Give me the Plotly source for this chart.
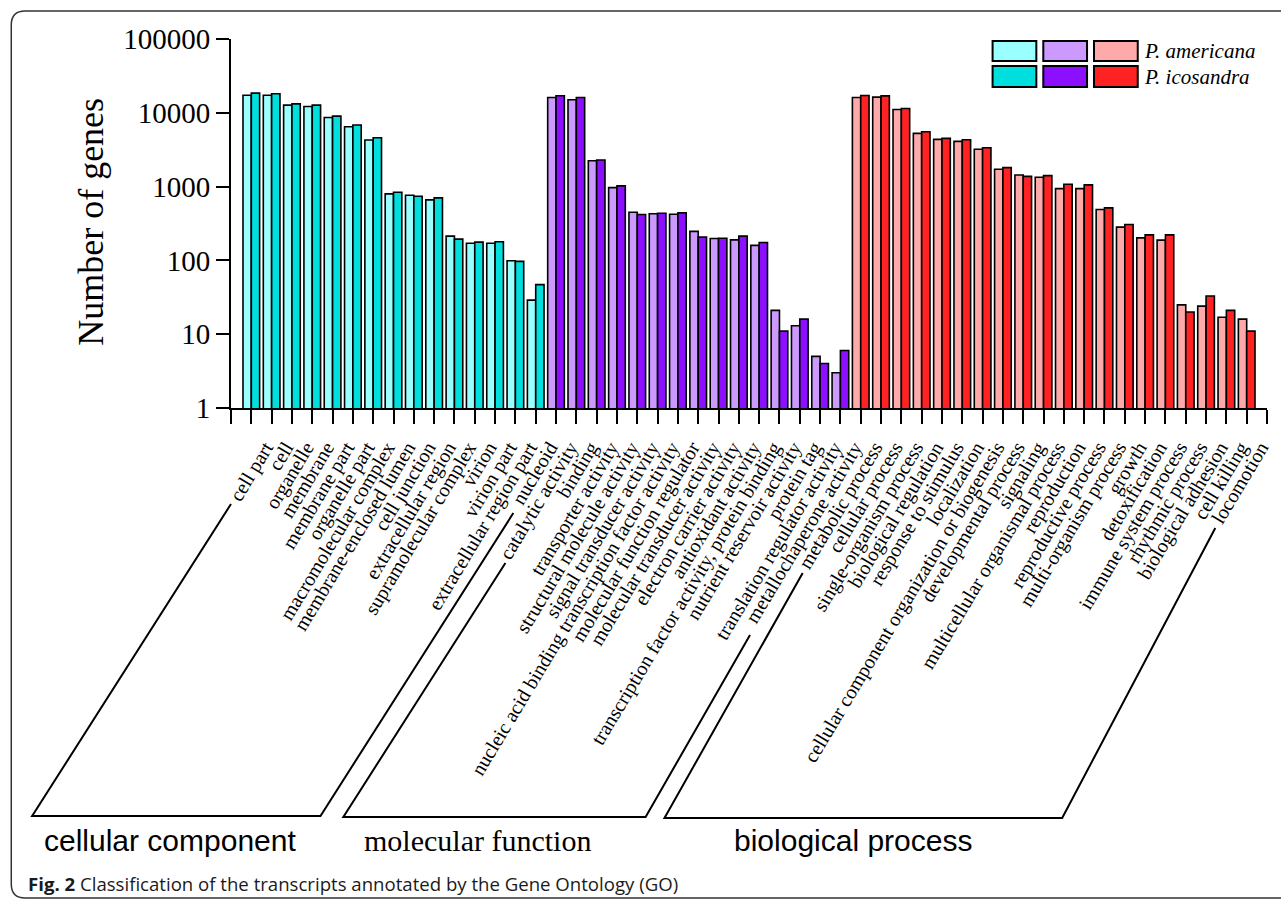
import plotly.graph_objects as go

# GO terms per ontology
cc_terms = ["cell part", "cell", "organelle", "membrane", "membrane part", "organelle part",
            "macromolecular complex", "membrane-enclosed lumen", "cell junction",
            "extracellular region", "supramolecular complex", "virion", "virion part",
            "extracellular region part", "nucleoid"]
mf_terms = ["catalytic activity", "binding", "transporter activity",
            "structural molecule activity", "signal transducer activity",
            "nucleic acid binding transcription factor activity",
            "molecular function regulator", "molecular transducer activity",
            "electron carrier activity", "antioxidant activity",
            "transcription factor activity, protein binding", "nutrient reservoir activity",
            "protein tag", "translation regulator activity", "metallochaperone activity"]
bp_terms = ["metabolic process", "cellular process", "single-organism process",
            "biological regulation", "response to stimulus", "localization",
            "cellular component organization or biogenesis", "developmental process",
            "signaling", "multicellular organismal process", "reproduction",
            "reproductive process", "multi-organism process", "growth", "detoxification",
            "immune system process", "rhythmic process", "biological adhesion",
            "cell killing", "locomotion"]

# Number of genes, P. americana
cc_americana = [17300, 17300, 12700, 12200, 8650, 6470, 4280, 796, 764, 661, 213, 171, 171, 99, 29]
mf_americana = [16100, 15000, 2245, 969, 450, 428, 423, 247, 198, 190, 160, 21, 13, 5, 3]
bp_americana = [16100, 16300, 11090, 5260, 4360, 4100, 3200, 1715, 1438, 1336, 940, 940,
                489, 282, 202, 188, 25, 24, 17, 16]
# Number of genes, P. icosandra
cc_icosandra = [18500, 18100, 13200, 12700, 9020, 6820, 4590, 838, 740, 703, 194, 177, 179, 97, 47]
mf_icosandra = [17000, 16100, 2290, 1022, 419, 436, 441, 207, 200, 213, 175, 11, 16, 4, 6]
bp_icosandra = [17140, 16980, 11430, 5540, 4500, 4315, 3365, 1806, 1377, 1408, 1075, 1054,
                515, 306, 222, 222, 20, 33, 21, 11]

y_ticks = [1, 10, 100, 1000, 10000, 100000]

# colours: (P. americana, P. icosandra) per ontology
col_cc = ("#99ffff", "#00dede")
col_mf = ("#cc99ff", "#8c10ff")
col_bp = ("#ffaaaa", "#ff2222")

terms = cc_terms + mf_terms + bp_terms
xpos = list(range(1, len(terms) + 1))
am = cc_americana + mf_americana + bp_americana
ic = cc_icosandra + mf_icosandra + bp_icosandra
am_cols = [col_cc[0]] * len(cc_terms) + [col_mf[0]] * len(mf_terms) + [col_bp[0]] * len(bp_terms)
ic_cols = [col_cc[1]] * len(cc_terms) + [col_mf[1]] * len(mf_terms) + [col_bp[1]] * len(bp_terms)

W, H = 1281, 900
L, R, T, B = 231, 8, 39, 492
PW, PH = W - L - R, H - T - B


def px(x):
    return (x - L) / PW


def py(y):
    return (H - B - y) / PH


fig = go.Figure()
fig.add_trace(go.Bar(x=xpos, y=am, name="P. americana",
                     marker=dict(color=am_cols, line=dict(color="black", width=1.6))))
fig.add_trace(go.Bar(x=xpos, y=ic, name="P. icosandra",
                     marker=dict(color=ic_cols, line=dict(color="black", width=1.6))))

serif = "Liberation Serif"
sans = "Liberation Sans"

shapes = []
annotations = []

# outer rounded frame
rad = 14
fx0, fy0, fx1, fy1 = 10, 11, 1295, 898
frame = (f"M {px(fx1)},{py(fy0)} L {px(fx0 + rad)},{py(fy0)} "
         f"Q {px(fx0)},{py(fy0)} {px(fx0)},{py(fy0 + rad)} "
         f"L {px(fx0)},{py(fy1 - rad)} Q {px(fx0)},{py(fy1)} {px(fx0 + rad)},{py(fy1)} "
         f"L {px(fx1)},{py(fy1)}")
shapes.append(dict(type="path", xref="paper", yref="paper", path=frame,
                   line=dict(color="#333333", width=1.5)))

# brackets grouping the ontologies
brackets = [
    [(231, 504), (31, 816), (321, 816), (515, 513)],
    [(507, 563), (344, 817), (648, 817), (753, 635)],
    [(806, 573), (667, 818), (1067, 818), (1221, 528)],
]
for pts in brackets:
    path = "M " + " L ".join(f"{px(a)},{py(b)}" for a, b in pts)
    shapes.append(dict(type="path", xref="paper", yref="paper", path=path,
                       line=dict(color="black", width=2)))

group_labels = [("cellular component", 170, sans), ("molecular function", 479, serif),
                ("biological process", 857, sans)]
for txt, cx, fam in group_labels:
    annotations.append(dict(text=txt, x=px(cx), y=py(840), xref="paper", yref="paper",
                            showarrow=False, xanchor="center", yanchor="middle",
                            font=dict(family=fam, size=30, color="black")))

# legend: three swatch columns, two rows
swatch_cols = [(997, 1041), (1048, 1092), (1099, 1143)]
rows = [(41, 61), (66, 87)]
for (x0, x1), cpair in zip(swatch_cols, [col_cc, col_mf, col_bp]):
    for (y0, y1), c in zip(rows, cpair):
        shapes.append(dict(type="rect", xref="paper", yref="paper",
                           x0=px(x0), x1=px(x1), y0=py(y1), y1=py(y0),
                           fillcolor=c, line=dict(color="black", width=2)))
for (y0, y1), name in zip(rows, ["P. americana", "P. icosandra"]):
    annotations.append(dict(text=f"<i>{name}</i>", x=px(1147), y=py((y0 + y1) / 2),
                            xref="paper", yref="paper", showarrow=False,
                            xanchor="left", yanchor="middle",
                            font=dict(family=serif, size=21, color="black")))

# y-axis title
annotations.append(dict(text="Number of genes", x=px(90), y=py(222), xref="paper", yref="paper",
                        showarrow=False, textangle=-90, xanchor="center", yanchor="middle",
                        font=dict(family=serif, size=36, color="black")))

# caption
annotations.append(dict(text="<b>Fig. 2</b> Classification of the transcripts annotated by the Gene Ontology (GO)",
                        x=px(25), y=py(883), xref="paper", yref="paper", showarrow=False,
                        xanchor="left", yanchor="middle",
                        font=dict(family="Open Sans", size=18.6, color="#1a1a1a")))

tickvals = list(range(0, len(terms) + 2))
ticktext = [""] + terms + [""]

fig.update_layout(
    width=W, height=H,
    margin=dict(l=L, r=R, t=T, b=B, pad=0),
    paper_bgcolor="white", plot_bgcolor="white",
    barmode="group", bargap=0.18, bargroupgap=0,
    showlegend=False,
    shapes=shapes, annotations=annotations,
    xaxis=dict(range=[0, len(terms) + 1], tickmode="array", tickvals=tickvals, ticktext=ticktext,
               tickangle=-59, ticks="outside", ticklen=14, tickwidth=2, tickcolor="black",
               showline=True, linecolor="black", linewidth=2, showgrid=False, zeroline=False,
               ticklabelshift=14, ticklabelstandoff=4,
               tickfont=dict(family=serif, size=20, color="black")),
    yaxis=dict(type="log", range=[0, 5], tickmode="array", tickvals=y_ticks,
               ticktext=[str(v) for v in y_ticks],
               ticks="outside", ticklen=13, tickwidth=2, tickcolor="black",
               showline=True, linecolor="black", linewidth=2, showgrid=False, zeroline=False,
               tickfont=dict(family=serif, size=29, color="black")),
)

fig.write_html("out.html")
